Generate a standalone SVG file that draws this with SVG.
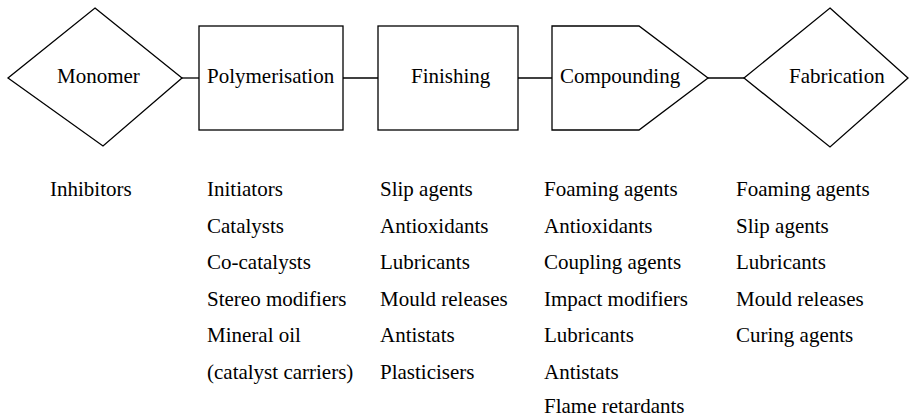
<svg xmlns="http://www.w3.org/2000/svg" width="909" height="417" viewBox="0 0 909 417">
<style>
.s{fill:#fff;stroke:#000;stroke-width:1.3;stroke-linejoin:miter}
.c{stroke:#000;stroke-width:1.3;fill:none}
text{font-family:"Liberation Serif","Times New Roman",serif;font-size:21px;fill:#000}
</style>
<rect width="909" height="417" fill="#fff"/>
<g id="connectors">
<line class="c" x1="182" y1="78" x2="199" y2="78"/>
<line class="c" x1="343" y1="78" x2="378" y2="78"/>
<line class="c" x1="518" y1="78" x2="552" y2="78"/>
<line class="c" x1="708" y1="78" x2="744" y2="78"/>
</g>
<g id="monomer">
<polygon class="s" points="95,8 182,78 103,146 8,78"/>
<text x="57" y="83">Monomer</text>
</g>
<g id="polymerisation">
<rect class="s" x="199" y="26" width="144" height="104"/>
<text x="207" y="83">Polymerisation</text>
</g>
<g id="finishing">
<rect class="s" x="378" y="26" width="140" height="104"/>
<text x="411" y="83">Finishing</text>
</g>
<g id="compounding">
<polygon class="s" points="552,26 639,26 708,78 639,130 552,130"/>
<text x="560" y="83">Compounding</text>
</g>
<g id="fabrication">
<polygon class="s" points="830,8 908,78 830,147 744,78"/>
<text x="789" y="83">Fabrication</text>
</g>
<g id="additives">
<text x="50" y="196">Inhibitors</text>
<text x="207" y="196">Initiators</text>
<text x="207" y="232.5">Catalysts</text>
<text x="207" y="269">Co-catalysts</text>
<text x="207" y="305.5">Stereo modifiers</text>
<text x="207" y="342">Mineral oil</text>
<text x="207" y="378.5">(catalyst carriers)</text>
<text x="380" y="196">Slip agents</text>
<text x="380" y="232.5">Antioxidants</text>
<text x="380" y="269">Lubricants</text>
<text x="380" y="305.5">Mould releases</text>
<text x="380" y="342">Antistats</text>
<text x="380" y="378.5">Plasticisers</text>
<text x="544" y="196">Foaming agents</text>
<text x="544" y="232.5">Antioxidants</text>
<text x="544" y="269">Coupling agents</text>
<text x="544" y="305.5">Impact modifiers</text>
<text x="544" y="342">Lubricants</text>
<text x="544" y="378.5">Antistats</text>
<text x="544" y="413">Flame retardants</text>
<text x="736" y="196">Foaming agents</text>
<text x="736" y="232.5">Slip agents</text>
<text x="736" y="269">Lubricants</text>
<text x="736" y="305.5">Mould releases</text>
<text x="736" y="342">Curing agents</text>
</g>
</svg>
